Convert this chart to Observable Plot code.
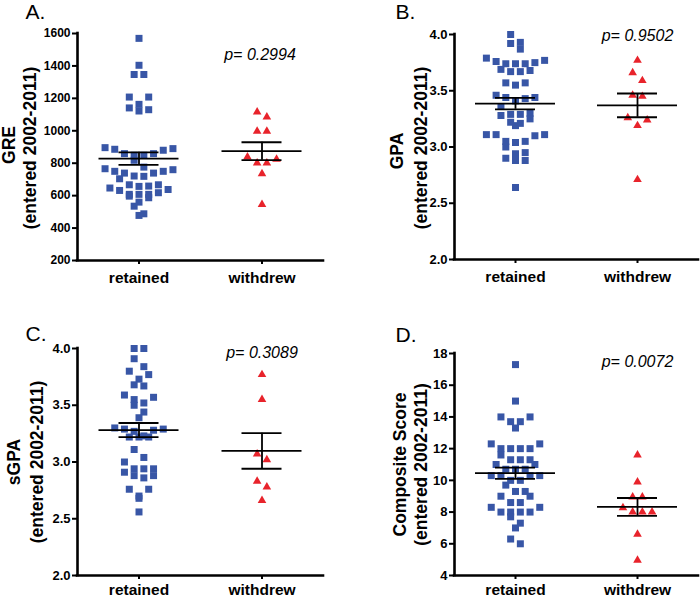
<!DOCTYPE html>
<html><head><meta charset="utf-8">
<script src="https://cdn.jsdelivr.net/npm/d3@7"></script>
<script src="https://cdn.jsdelivr.net/npm/@observablehq/plot@0.6"></script>
<style>
body{margin:0;background:#fff;}
#wrap{position:relative;width:700px;height:597px;overflow:hidden;background:#fff;}
.panel{position:absolute;}
</style></head><body><div id="wrap"></div>
<script>
const groups = ["retained", "withdrew"];

const greRetained = [1570,1404,1347,1347,1208,1208,1163,1141,1130,1122,896,886,859,849,849,859,880,890,818,766,776,760,750,739,719,704,721,739,750,667,657,647,632,638,659,667,608,608,587,597,608,618,560,535,478,488];
const greWithdrew = [1116,1085,997,997,838,824,801,801,735,546];

const gpaRetained = [4.00,3.93,3.92,3.87,3.79,3.77,3.76,3.75,3.74,3.74,3.74,3.69,3.68,3.67,3.67,3.57,3.57,3.55,3.46,3.44,3.44,3.43,3.41,3.36,3.30,3.29,3.29,3.28,3.25,3.22,3.21,3.19,3.11,3.11,3.11,3.10,3.05,3.05,3.04,3.00,2.95,2.94,2.90,2.88,2.88,2.64];
const gpaWithdrew = [3.77,3.66,3.59,3.46,3.45,3.26,3.24,3.19,2.71];

const sgpaRetained = [4.00,4.00,3.91,3.84,3.80,3.77,3.73,3.68,3.67,3.59,3.57,3.55,3.52,3.50,3.44,3.39,3.30,3.29,3.29,3.28,3.27,3.23,3.22,3.22,3.22,3.11,3.04,3.00,2.94,2.94,2.94,2.91,2.88,2.88,2.86,2.76,2.76,2.70,2.68,2.56];
const sgpaWithdrew = [3.77,3.55,3.07,3.02,2.83,2.78,2.66];

const compRetained = [17.3,15.0,14.0,14.0,13.7,13.7,13.3,12.3,12.3,12.0,12.0,12.0,12.0,11.6,11.3,11.3,11.3,11.0,11.0,10.7,10.7,10.7,10.3,10.3,10.3,10.3,10.0,10.0,9.7,9.3,9.3,9.0,9.0,8.6,8.6,8.3,8.3,8.0,8.0,8.0,8.0,7.7,7.3,7.0,6.3,6.0];
const compWithdrew = [11.6,9.9,8.95,8.95,8.27,8.0,8.0,8.0,6.6,4.96];

const greTicks = [200,400,600,800,1000,1200,1400,1600];
const gpaTicks = [2.0,2.5,3.0,3.5,4.0];
const compTicks = [4,6,8,10,12,14,16,18];

const pValues = ["p= 0.2994", "p= 0.9502", "p= 0.3089", "p= 0.0072"];
const letters = ["A.", "B.", "C.", "D."];
const yTitles = ["GRE", "GPA", "sGPA", "Composite Score"];
const ySubtitle = "(entered 2002-2011)";

const BLUE = "#3856a6";
const RED = "#e8232b";
const FONT = "'Liberation Sans', Arial, sans-serif";
const SLOT_PX = 9.7;
const ROW_PX = 8;

const panels = [
  {left:0, top:0, height:300, mT:33, mB:40, mL:77, mR:27, domain:[200,1600], ticks:greTicks, fmt:d=>String(d), tf:12, xpad:7,
   ret:greRetained, wd:greWithdrew, li:0, ldx:-52, ldy:-21.5, t1dx:-68, t1dy:-2, t2dx:-47, t2dy:1, pdx:-2, pdy:21.7},
  {left:350, top:0, height:300, mT:34, mB:41, mL:104, mR:2, domain:[2,4], ticks:gpaTicks, fmt:d3.format(".1f"), tf:13, xpad:7,
   ret:gpaRetained, wd:gpaWithdrew, li:1, ldx:-59, ldy:-22.5, t1dx:-57, t1dy:4, t2dx:-33, t2dy:1, pdx:0, pdy:1.7},
  {left:0, top:300, height:297, mT:48, mB:22, mL:77, mR:27, domain:[2,4], ticks:gpaTicks, fmt:d3.format(".1f"), tf:13, xpad:4,
   ret:sgpaRetained, wd:sgpaWithdrew, li:2, ldx:-52, ldy:-14.5, t1dx:-63, t1dy:0, t2dx:-40, t2dy:0, pdx:0, pdy:4.8},
  {left:350, top:300, height:297, mT:53, mB:22, mL:104, mR:2, domain:[4,18], ticks:compTicks, fmt:d=>String(d), tf:13, xpad:4,
   ret:compRetained, wd:compWithdrew, li:3, ldx:-59, ldy:-18, t1dx:-54, t1dy:0, t2dx:-33, t2dy:0, pdx:0, pdy:8.3}
];

function arrange(values, gi, pxPerY, pxPerX) {
  const sorted = values.slice().sort((a, b) => b - a);
  const rows = [];
  let cur = null;
  for (const v of sorted) {
    if (!cur || (cur[0] - v) * pxPerY > ROW_PX) { cur = []; rows.push(cur); }
    cur.push(v);
  }
  const out = [];
  for (const row of rows) {
    const n = row.length;
    const slots = d3.range(n).map(i => i - (n - 1) / 2);
    const order = slots.slice().sort((a, b) => Math.abs(b) - Math.abs(a) || a - b);
    row.forEach((v, i) => out.push({value: v, group: groups[gi], x: gi + 0.5 + order[i] * SLOT_PX / pxPerX}));
  }
  return out;
}

const wrap = document.getElementById("wrap");
for (const p of panels) {
  const width = 350;
  const plotW = width - p.mL - p.mR;
  const plotH = p.height - p.mT - p.mB;
  const pxPerX = plotW / 2;
  const pxPerY = plotH / (p.domain[1] - p.domain[0]);
  const retPts = arrange(p.ret, 0, pxPerY, pxPerX);
  const wdPts = arrange(p.wd, 1, pxPerY, pxPerX);
  const stats = [p.ret, p.wd].map((v, gi) => {
    const m = d3.mean(v), se = d3.deviation(v) / Math.sqrt(v.length);
    return {gi, mean: m, lo: m - se, hi: m + se};
  });
  const half = 40 / pxPerX, cap = 20 / pxPerX;
  const lo = p.domain[0], hi = p.domain[1];

  const chart = Plot.plot({
    width, height: p.height,
    marginTop: p.mT, marginBottom: p.mB, marginLeft: p.mL, marginRight: p.mR,
    x: {domain: [0, 2]},
    y: {domain: p.domain},
    style: {fontFamily: FONT, background: "white", color: "black", overflow: "visible"},
    marks: [
      Plot.axisY({ticks: p.ticks, tickFormat: p.fmt, tickSize: 5, tickPadding: 2, fontSize: p.tf, fontWeight: "bold", strokeWidth: 2, label: null}),
      Plot.axisX({ticks: [0.5, 1.5], tickFormat: d => groups[Math.round(d - 0.5)], tickSize: 4, tickPadding: p.xpad, fontSize: 15.5, fontWeight: "bold", strokeWidth: 2, label: null}),
      Plot.ruleY([lo], {stroke: "black", strokeWidth: 2.6, strokeLinecap: "square"}),
      Plot.ruleX([0], {y1: () => lo, y2: () => hi, stroke: "black", strokeWidth: 2.6, strokeLinecap: "square"}),
      Plot.dot(retPts, {x: "x", y: "value", symbol: "square", r: 3.95, fill: BLUE, stroke: "none"}),
      Plot.dot(wdPts, {x: "x", y: "value", symbol: "triangle", r: 3.2, fill: RED, stroke: "none"}),
      Plot.ruleY(stats, {y: "mean", x1: d => d.gi + 0.5 - half, x2: d => d.gi + 0.5 + half, stroke: "black", strokeWidth: 1.8}),
      Plot.ruleY(stats, {y: "lo", x1: d => d.gi + 0.5 - cap, x2: d => d.gi + 0.5 + cap, stroke: "black", strokeWidth: 1.8}),
      Plot.ruleY(stats, {y: "hi", x1: d => d.gi + 0.5 - cap, x2: d => d.gi + 0.5 + cap, stroke: "black", strokeWidth: 1.8}),
      Plot.ruleX(stats, {x: d => d.gi + 0.5, y1: "lo", y2: "hi", stroke: "black", strokeWidth: 1.8}),
      Plot.text([pValues[p.li]], {x: () => 1.5, frameAnchor: "top", lineAnchor: "middle", textAnchor: "middle", text: d => d, dx: p.pdx, dy: p.pdy, fontSize: 16, fontStyle: "italic", fill: "black"}),
      Plot.text([letters[p.li]], {frameAnchor: "top-left", lineAnchor: "middle", textAnchor: "start", text: d => d, dx: p.ldx, dy: p.ldy, fontSize: 21, fill: "black"}),
      Plot.text([yTitles[p.li]], {frameAnchor: "left", lineAnchor: "middle", textAnchor: "middle", text: d => d, rotate: -90, dx: p.t1dx, dy: p.t1dy, fontSize: 17.5, fontWeight: "bold", fill: "black"}),
      Plot.text([ySubtitle], {frameAnchor: "left", lineAnchor: "middle", textAnchor: "middle", text: d => d, rotate: -90, dx: p.t2dx, dy: p.t2dy, fontSize: 17.5, fontWeight: "bold", fill: "black"})
    ]
  });
  const div = document.createElement("div");
  div.className = "panel";
  div.style.left = p.left + "px";
  div.style.top = p.top + "px";
  div.appendChild(chart);
  wrap.appendChild(div);
}
</script></body></html>
